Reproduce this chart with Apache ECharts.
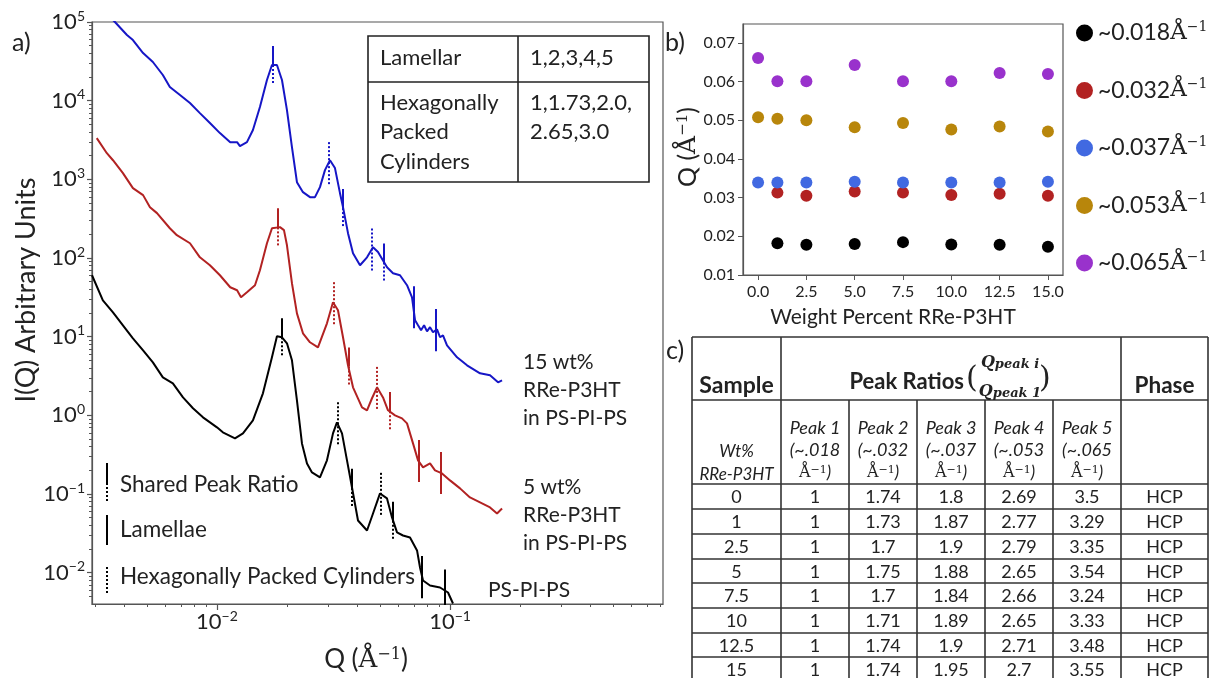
<!DOCTYPE html>
<html><head><meta charset="utf-8">
<script src="https://cdn.jsdelivr.net/npm/echarts@6/dist/echarts.min.js"></script>
<style>html,body{margin:0;padding:0;background:#fff}#c{width:1223px;height:678px}</style>
</head><body><div id="c"></div>
<script>
// ---------------- DATA ----------------
// Panel a: SAXS curves (Q in 1/Angstrom, I arbitrary units)
const blueQ = [0.00305,0.00365,0.00411,0.00436,0.00482,0.00531,0.00586,0.00628,0.00694,0.00766,0.00845,0.00933,0.0103,0.0114,0.0122,0.01255,0.01345,0.01427,0.01529,0.01639,0.01722,0.01809,0.01901,0.01997,0.02098,0.02204,0.02339,0.02507,0.02634,0.02767,0.02907,0.03055,0.03209,0.03372,0.03474,0.0365,0.03835,0.0411,0.04404,0.04673,0.04909,0.05366,0.05694,0.06101,0.06539,0.0687,0.07077,0.07291,0.0751,0.0774,0.07968,0.08208,0.08453,0.08795,0.0906,0.0933,0.09707,0.1072,0.1183,0.1345,0.1485,0.1607,0.1672];
const blueI = [169000,100000,68300,59000,40300,31000,21200,14900,11800,9320,6950,5190,3870,2970,2970,2650,2970,4230,8290,18300,28400,28400,18300,7590,2570,921,687,594,594,796,1310,1750,1390,667,443,207,115,81,102,137,119,76.4,64.1,60.4,45.1,31.7,16.2,13.96,12.06,13.96,11.7,13.2,11.4,12.4,9.83,10.4,7.77,5.47,4.33,3.42,3.23,2.63,2.79];
const redQ = [0.00305,0.00337,0.00358,0.00395,0.00436,0.00482,0.00516,0.00553,0.00628,0.00673,0.00766,0.00845,0.00933,0.0103,0.0114,0.0122,0.01268,0.01345,0.01456,0.01529,0.01639,0.01722,0.01864,0.01939,0.01997,0.02098,0.02204,0.02339,0.02507,0.02713,0.02965,0.03147,0.03306,0.03474,0.0365,0.03835,0.04192,0.04404,0.04627,0.04862,0.05158,0.05419,0.05807,0.06223,0.06539,0.06938,0.07291,0.07659,0.08208,0.08623,0.09241,0.1,0.1104,0.1218,0.1345,0.1485,0.1591,0.1672];
const redI = [3340,2150,1750,1200,773,630,443,372,239,195,154,102,81,60.4,42.5,38.9,31.7,36.7,45.1,70,154,239,247,226,145,47.8,19.8,11.05,8.49,7.33,14.8,27.4,21.7,9.83,4.33,2.27,1.26,1.16,1.65,2.27,1.69,1.16,1.0,0.916,0.791,0.44,0.268,0.218,0.245,0.2,0.183,0.149,0.118,0.0905,0.0782,0.0675,0.0566,0.0656];
const blackQ = [0.00291,0.00324,0.00358,0.00395,0.00436,0.00482,0.00531,0.00586,0.00647,0.00715,0.00789,0.00871,0.01,0.0106,0.01195,0.01293,0.01427,0.01575,0.01722,0.01809,0.01901,0.01997,0.02098,0.02204,0.02316,0.02434,0.02557,0.02767,0.02965,0.03147,0.03273,0.0344,0.03614,0.03797,0.04029,0.04404,0.04673,0.05007,0.05366,0.05638,0.05923,0.06285,0.06735,0.07219,0.07435,0.07659,0.08208,0.0906,0.09804,0.103];
const blackI = [60.4,29,20.4,13.96,9.54,6.71,4.72,3.04,2.55,1.69,1.23,0.943,0.704,0.608,0.51,0.59,0.864,1.905,5.47,10.1,9.83,8.24,5.01,1.55,0.44,0.245,0.188,0.163,0.268,0.59,0.815,0.59,0.268,0.121,0.0461,0.0344,0.0566,0.1017,0.0879,0.0504,0.0325,0.0297,0.028,0.0192,0.01164,0.00796,0.00687,0.00648,0.0056,0.00406];
const firstPeakQ = [0.0174, 0.0183, 0.0190]; // blue, red, black
const curveLabels = ['15 wt%\nRRe-P3HT\nin PS-PI-PS', '5 wt%\nRRe-P3HT\nin PS-PI-PS', 'PS-PI-PS'];
const lamellarRatios = [1, 2, 3, 4, 5];
const hcpRatios = [1, 1.73, 2.0, 2.65, 3.0];
const insetRows = [['Lamellar', '1,2,3,4,5'], ['Hexagonally\nPacked\nCylinders', '1,1.73,2.0,\n2.65,3.0']];
const legendALabels = ['Shared Peak Ratio', 'Lamellae', 'Hexagonally Packed Cylinders'];
const xTicksA = [0.01, 0.1];
const yTicksA = [1e-2, 1e-1, 1e0, 1e1, 1e2, 1e3, 1e4, 1e5];

// Panel b: peak positions vs weight percent
const weights = [0, 1, 2.5, 5, 7.5, 10, 12.5, 15];
const peakNames = ['~0.018', '~0.032', '~0.037', '~0.053', '~0.065'];
const peak018 = [null, 0.0182, 0.0178, 0.0180, 0.0185, 0.0179, 0.0178, 0.0173];
const peak032 = [null, 0.0313, 0.0305, 0.0316, 0.0313, 0.0307, 0.0310, 0.0305];
const peak037 = [0.0339, 0.0339, 0.0339, 0.0341, 0.0339, 0.0339, 0.0339, 0.0341];
const peak053 = [0.0508, 0.0504, 0.0500, 0.0482, 0.0493, 0.0476, 0.0484, 0.0471];
const peak065 = [0.0661, 0.0601, 0.0601, 0.0643, 0.0601, 0.0601, 0.0622, 0.0620];
const xTicksB = [0, 2.5, 5, 7.5, 10, 12.5, 15];

// Panel c: table
const tableWt = ['0', '1', '2.5', '5', '7.5', '10', '12.5', '15'];
const ratioPeak1 = ['1', '1', '1', '1', '1', '1', '1', '1'];
const ratioPeak2 = ['1.74', '1.73', '1.7', '1.75', '1.7', '1.71', '1.74', '1.74'];
const ratioPeak3 = ['1.8', '1.87', '1.9', '1.88', '1.84', '1.89', '1.9', '1.95'];
const ratioPeak4 = ['2.69', '2.77', '2.79', '2.65', '2.66', '2.65', '2.71', '2.7'];
const ratioPeak5 = ['3.5', '3.29', '3.35', '3.54', '3.24', '3.33', '3.48', '3.55'];
const tablePhase = ['HCP', 'HCP', 'HCP', 'HCP', 'HCP', 'HCP', 'HCP', 'HCP'];
const peakHeaders = ['.018', '.032', '.037', '.053', '.065'];

// ---------------- STYLE ----------------
const FONT = 'Lato, "Open Sans", sans-serif';
const SERIF = '"DejaVu Serif", "Liberation Serif", serif';
const TXT = '#222';
const AX = '#555';
const curveColors = ['#1616c6', '#b22222', '#000000'];
const peakColors = ['#000000', '#b22222', '#4169e1', '#b8860b', '#9932cc'];

const chart = echarts.init(document.getElementById('c'), null, {renderer: 'canvas'});

function expStr(v) { const e = Math.round(Math.log10(v)); return (e < 0 ? '\u2212' + (-e) : '' + e); }
const powRich = {
  b: {fontSize: 22, fontFamily: FONT, color: TXT, lineHeight: 26},
  s: {fontSize: 14, fontFamily: FONT, color: TXT, lineHeight: 13, verticalAlign: 'top'}
};
function powFmt(v) { return '{b|10}{s|' + expStr(v) + '}'; }

function minorLog(lo, hi) {
  const out = [];
  for (let e = -4; e <= 6; e++) for (let m = 2; m <= 9; m++) { const v = m * Math.pow(10, e); if (v > lo && v < hi) out.push(v); }
  return out;
}

function interpLog(Q, I, q) {
  for (let i = 0; i < Q.length - 1; i++) {
    if (q >= Q[i] && q <= Q[i + 1]) {
      const t = (Math.log(q) - Math.log(Q[i])) / (Math.log(Q[i + 1]) - Math.log(Q[i]));
      return Math.exp(Math.log(I[i]) + t * (Math.log(I[i + 1]) - Math.log(I[i])));
    }
  }
  return I[I.length - 1];
}

const XMIN = 0.00291, XMAX = 0.82, YMIN = 0.004, YMAX = 1e5;
const curves = [[blueQ, blueI], [redQ, redI], [blackQ, blackI]];

// marker segments
const solidSegs = [], dotSegs = [];
const isIn = (arr, r) => arr.some(a => Math.abs(a - r) < 1e-9);
const F1 = 1.75, F2 = 1.85;
curves.forEach((c, k) => {
  const col = curveColors[k];
  const all = Array.from(new Set(lamellarRatios.concat(hcpRatios)));
  all.forEach(r => {
    const q = firstPeakQ[k] * r;
    const I = interpLog(c[0], c[1], q);
    const lam = isIn(lamellarRatios, r), hcp = isIn(hcpRatios, r);
    if (lam && hcp) {
      solidSegs.push({coords: [[q, I * F1], [q, I]], lineStyle: {color: col}});
      dotSegs.push({coords: [[q, I], [q, I / F1]], lineStyle: {color: col}});
    } else if (lam) {
      solidSegs.push({coords: [[q, I * F2], [q, I / F2]], lineStyle: {color: col}});
    } else {
      dotSegs.push({coords: [[q, I * F2], [q, I / F2]], lineStyle: {color: col}});
    }
  });
});

const series = [];
curves.forEach((c, k) => {
  series.push({
    type: 'line', xAxisIndex: 0, yAxisIndex: 0, name: curveLabels[k],
    data: c[0].map((q, i) => [q, c[1][i]]), showSymbol: false, symbol: 'none',
    lineStyle: {color: curveColors[k], width: 2}, clip: true, silent: true, z: 3
  });
});
series.push({type: 'lines', coordinateSystem: 'cartesian2d', xAxisIndex: 0, yAxisIndex: 0, data: solidSegs,
  lineStyle: {width: 2, type: 'solid', opacity: 1}, clip: true, silent: true, z: 4});
series.push({type: 'lines', coordinateSystem: 'cartesian2d', xAxisIndex: 0, yAxisIndex: 0, data: dotSegs,
  lineStyle: {width: 2, type: [2, 2], opacity: 1}, clip: true, silent: true, z: 4});

const peakVals = [peak018, peak032, peak037, peak053, peak065];
peakVals.forEach((vals, k) => {
  series.push({
    type: 'scatter', name: peakNames[k] + '\u00c5\u207b\u00b9', xAxisIndex: 2, yAxisIndex: 2,
    data: weights.map((w, i) => [w, vals[i]]).filter(d => d[1] != null),
    symbolSize: 12, itemStyle: {color: peakColors[k], opacity: 1}, z: 3
  });
});

// ---------------- GRAPHICS ----------------
const g = [];
function text(x, y, str, opt) {
  opt = opt || {};
  g.push(Object.assign({
    type: 'text', x: x, y: y, rotation: opt.rotation || 0, z: 100,
    style: Object.assign({text: str, fill: TXT, fontFamily: FONT, fontSize: 20,
      align: opt.align || 'left', verticalAlign: opt.va || 'middle',
      textAlign: opt.align || 'left', textVerticalAlign: opt.va || 'middle'}, opt.style || {})
  }));
}
function line(x1, y1, x2, y2, opt) {
  opt = opt || {};
  g.push({type: 'line', z: 100, shape: {x1: x1, y1: y1, x2: x2, y2: y2},
    style: {stroke: opt.color || '#222', lineWidth: opt.w || 1.5, lineDash: opt.dash || null}});
}
function mathQ(size, sup) {
  return {
    a: {fontSize: size, fontFamily: FONT, fill: TXT, color: TXT},
    b: {fontSize: size, fontFamily: SERIF, fill: TXT, color: TXT},
    s: {fontSize: sup, fontFamily: SERIF, fill: TXT, color: TXT, verticalAlign: 'top', lineHeight: sup}
  };
}

// panel letters
text(12, 43, 'a)', {style: {fontSize: 25}});
text(665, 43, 'b)', {style: {fontSize: 25}});
text(666, 351, 'c)', {style: {fontSize: 25}});

// panel a axis titles
text(26, 290, 'I(Q) Arbitrary Units', {align: 'center', rotation: Math.PI / 2, style: {fontSize: 27}});
text(366, 660, '{a|Q (}{b|\u00c5}{s|\u22121}{a|)}', {align: 'center', style: {rich: mathQ(26, 16)}});

// curve labels
text(523, 348, curveLabels[0], {va: 'top', style: {fontSize: 21, lineHeight: 28}});
text(523, 473, curveLabels[1], {va: 'top', style: {fontSize: 21, lineHeight: 28}});
text(488, 590, curveLabels[2], {style: {fontSize: 21}});

// inset table
g.push({type: 'rect', z: 99, shape: {x: 368, y: 36, width: 281, height: 146}, style: {fill: '#fff', stroke: '#222', lineWidth: 1.6}});
line(518, 36, 518, 182, {w: 1.6});
line(368, 82, 649, 82, {w: 1.6});
text(380, 58, insetRows[0][0], {style: {fontSize: 22}});
text(530, 58, insetRows[0][1], {style: {fontSize: 22}});
text(380, 88, insetRows[1][0], {va: 'top', style: {fontSize: 22, lineHeight: 29.5}});
text(530, 88, insetRows[1][1], {va: 'top', style: {fontSize: 22, lineHeight: 29.5}});

// panel a legend
line(107, 463, 107, 483, {w: 2, color: '#000'});
line(107, 483, 107, 502, {w: 2, color: '#000', dash: [2, 2]});
line(107, 515, 107, 545, {w: 2, color: '#000'});
line(107, 567, 107, 594, {w: 2, color: '#000', dash: [2, 2]});
text(120, 485, legendALabels[0], {style: {fontSize: 22.5}});
text(120, 530, legendALabels[1], {style: {fontSize: 22.5}});
text(120, 577, legendALabels[2], {style: {fontSize: 22.5}});

// panel b titles
text(688, 147, '{a|Q (}{b|\u00c5}{s|\u22121}{a|)}', {align: 'center', rotation: Math.PI / 2, style: {rich: mathQ(25, 15)}});
text(893, 317, 'Weight Percent RRe-P3HT', {align: 'center', style: {fontSize: 21}});

// panel c table
const colX = [692, 781, 849, 917, 985, 1053, 1121, 1208];
const rowY = [337, 400, 484, 509, 534, 559, 583, 608, 633, 657, 682];
const TL = {color: '#333', w: 1.6};
rowY.forEach(y => line(colX[0], y, colX[7], y, TL));
colX.forEach((x, i) => {
  const full = (i === 0 || i === 1 || i === 6 || i === 7);
  line(x, full ? rowY[0] : rowY[1], x, rowY[rowY.length - 1], TL);
});
const cx = i => (colX[i] + colX[i + 1]) / 2;
text(cx(0), 386, 'Sample', {align: 'center', style: {fontSize: 23, fontWeight: 'bold'}});
text(cx(6), 386, 'Phase', {align: 'center', style: {fontSize: 22.5, fontWeight: 'bold'}});
text(964, 382, 'Peak Ratios', {align: 'right', style: {fontSize: 22, fontWeight: 'bold'}});
text(966, 379, '(', {style: {fontSize: 30, fontFamily: SERIF}});
text(1039, 379, ')', {style: {fontSize: 30, fontFamily: SERIF}});
const fracRich = {
  q: {fontSize: 16, fontFamily: SERIF, fontWeight: 'bold', fontStyle: 'italic', fill: TXT, color: TXT},
  p: {fontSize: 13, fontFamily: SERIF, fontWeight: 'bold', fontStyle: 'italic', fill: TXT, color: TXT, verticalAlign: 'bottom', lineHeight: 14}
};
text(1010, 363, '{q|Q}{p|peak i}', {align: 'center', style: {rich: fracRich}});
text(1010, 392, '{q|Q}{p|peak 1}', {align: 'center', style: {rich: fracRich}});
// second header row
text(cx(0), 452, 'Wt%', {align: 'center', style: {fontSize: 17, fontStyle: 'italic'}});
text(cx(0), 475, 'RRe-P3HT', {align: 'center', style: {fontSize: 17, fontStyle: 'italic'}});
const aRich = {
  a: {fontSize: 16, fontFamily: SERIF, fill: TXT, color: TXT},
  s: {fontSize: 11, fontFamily: SERIF, fill: TXT, color: TXT, verticalAlign: 'top', lineHeight: 10},
  p: {fontSize: 17, fontFamily: FONT, fontStyle: 'italic', fill: TXT, color: TXT}
};
peakHeaders.forEach((h, i) => {
  text(cx(i + 1), 428, 'Peak ' + (i + 1), {align: 'center', style: {fontSize: 18, fontStyle: 'italic'}});
  text(cx(i + 1), 450, '(~' + h, {align: 'center', style: {fontSize: 18, fontStyle: 'italic'}});
  text(cx(i + 1), 473, '{a|\u00c5}{s|\u22121}{p|)}', {align: 'center', style: {rich: aRich}});
});
const tableCols = [tableWt, ratioPeak1, ratioPeak2, ratioPeak3, ratioPeak4, ratioPeak5, tablePhase];
for (let r = 0; r < tableWt.length; r++) {
  const yc = (rowY[r + 2] + rowY[r + 3]) / 2 + 1;
  tableCols.forEach((col, c) => text(cx(c), yc, col[r], {align: 'center', style: {fontSize: 18}}));
}

// ---------------- OPTION ----------------
const option = {
  animation: false,
  backgroundColor: '#fff',
  textStyle: {fontFamily: FONT},
  grid: [
    {left: 92, top: 22, width: 571, height: 582, show: true, borderColor: AX, borderWidth: 1.2, backgroundColor: 'transparent'},
    {left: 743, top: 24, width: 320, height: 251, show: true, borderColor: AX, borderWidth: 1.2, backgroundColor: 'transparent'}
  ],
  xAxis: [
    {type: 'log', gridIndex: 0, position: 'bottom', logBase: 10, min: XMIN, max: XMAX,
      axisLine: {show: true, onZero: false, lineStyle: {color: AX, width: 1.2}},
      axisTick: {show: true, length: 6, lineStyle: {color: AX, width: 1.2}, customValues: xTicksA},
      axisLabel: {show: true, margin: 5, customValues: xTicksA, formatter: powFmt, rich: powRich},
      splitLine: {show: false}},
    {type: 'log', gridIndex: 0, position: 'bottom', logBase: 10, min: XMIN, max: XMAX,
      axisLine: {show: false, onZero: false}, axisLabel: {show: false}, splitLine: {show: false},
      axisTick: {show: true, length: 3, lineStyle: {color: AX, width: 1}, customValues: minorLog(XMIN, XMAX)}},
    {type: 'value', gridIndex: 1, position: 'bottom', min: -0.78, max: 15.78,
      axisLine: {show: true, onZero: false, lineStyle: {color: AX, width: 1.2}},
      axisTick: {show: true, length: 5, lineStyle: {color: AX}, customValues: xTicksB},
      axisLabel: {show: true, margin: 9, customValues: xTicksB, color: TXT, fontSize: 16, formatter: v => v.toFixed(1)},
      splitLine: {show: false}}
  ],
  yAxis: [
    {type: 'log', gridIndex: 0, position: 'left', logBase: 10, min: YMIN, max: YMAX,
      axisLine: {show: true, onZero: false, lineStyle: {color: AX, width: 1.2}},
      axisTick: {show: true, length: 5, lineStyle: {color: AX, width: 1.2}, customValues: yTicksA},
      axisLabel: {show: true, margin: 7, customValues: yTicksA, formatter: powFmt, rich: powRich},
      splitLine: {show: false}},
    {type: 'log', gridIndex: 0, position: 'left', logBase: 10, min: YMIN, max: YMAX,
      axisLine: {show: false, onZero: false}, axisLabel: {show: false}, splitLine: {show: false},
      axisTick: {show: true, length: 3, lineStyle: {color: AX, width: 1}, customValues: minorLog(YMIN, YMAX)}},
    {type: 'value', gridIndex: 1, position: 'left', min: 0.01, max: 0.0749, interval: 0.01,
      axisLine: {show: true, onZero: false, lineStyle: {color: AX, width: 1.2}},
      axisTick: {show: true, length: 5, lineStyle: {color: AX}},
      axisLabel: {show: true, margin: 8, color: TXT, fontSize: 16, showMaxLabel: false, formatter: v => v.toFixed(2)},
      splitLine: {show: false}}
  ],
  legend: {
    show: true, orient: 'vertical', left: 1071, top: 15, itemWidth: 17, itemHeight: 17, itemGap: 33,
    icon: 'circle', data: peakNames.map(n => n + '\u00c5\u207b\u00b9'),
    formatter: name => '{t|' + name.replace('\u00c5\u207b\u00b9', '') + '}{a|\u00c5}{s|\u22121}',
    textStyle: {rich: {
      t: {fontSize: 23, fontFamily: FONT, color: TXT, lineHeight: 26},
      a: {fontSize: 23, fontFamily: SERIF, color: TXT, lineHeight: 26},
      s: {fontSize: 14, fontFamily: SERIF, color: TXT, verticalAlign: 'top', lineHeight: 13}
    }}
  },
  series: series,
  graphic: {elements: g}
};
chart.setOption(option);
</script>
</body></html>
